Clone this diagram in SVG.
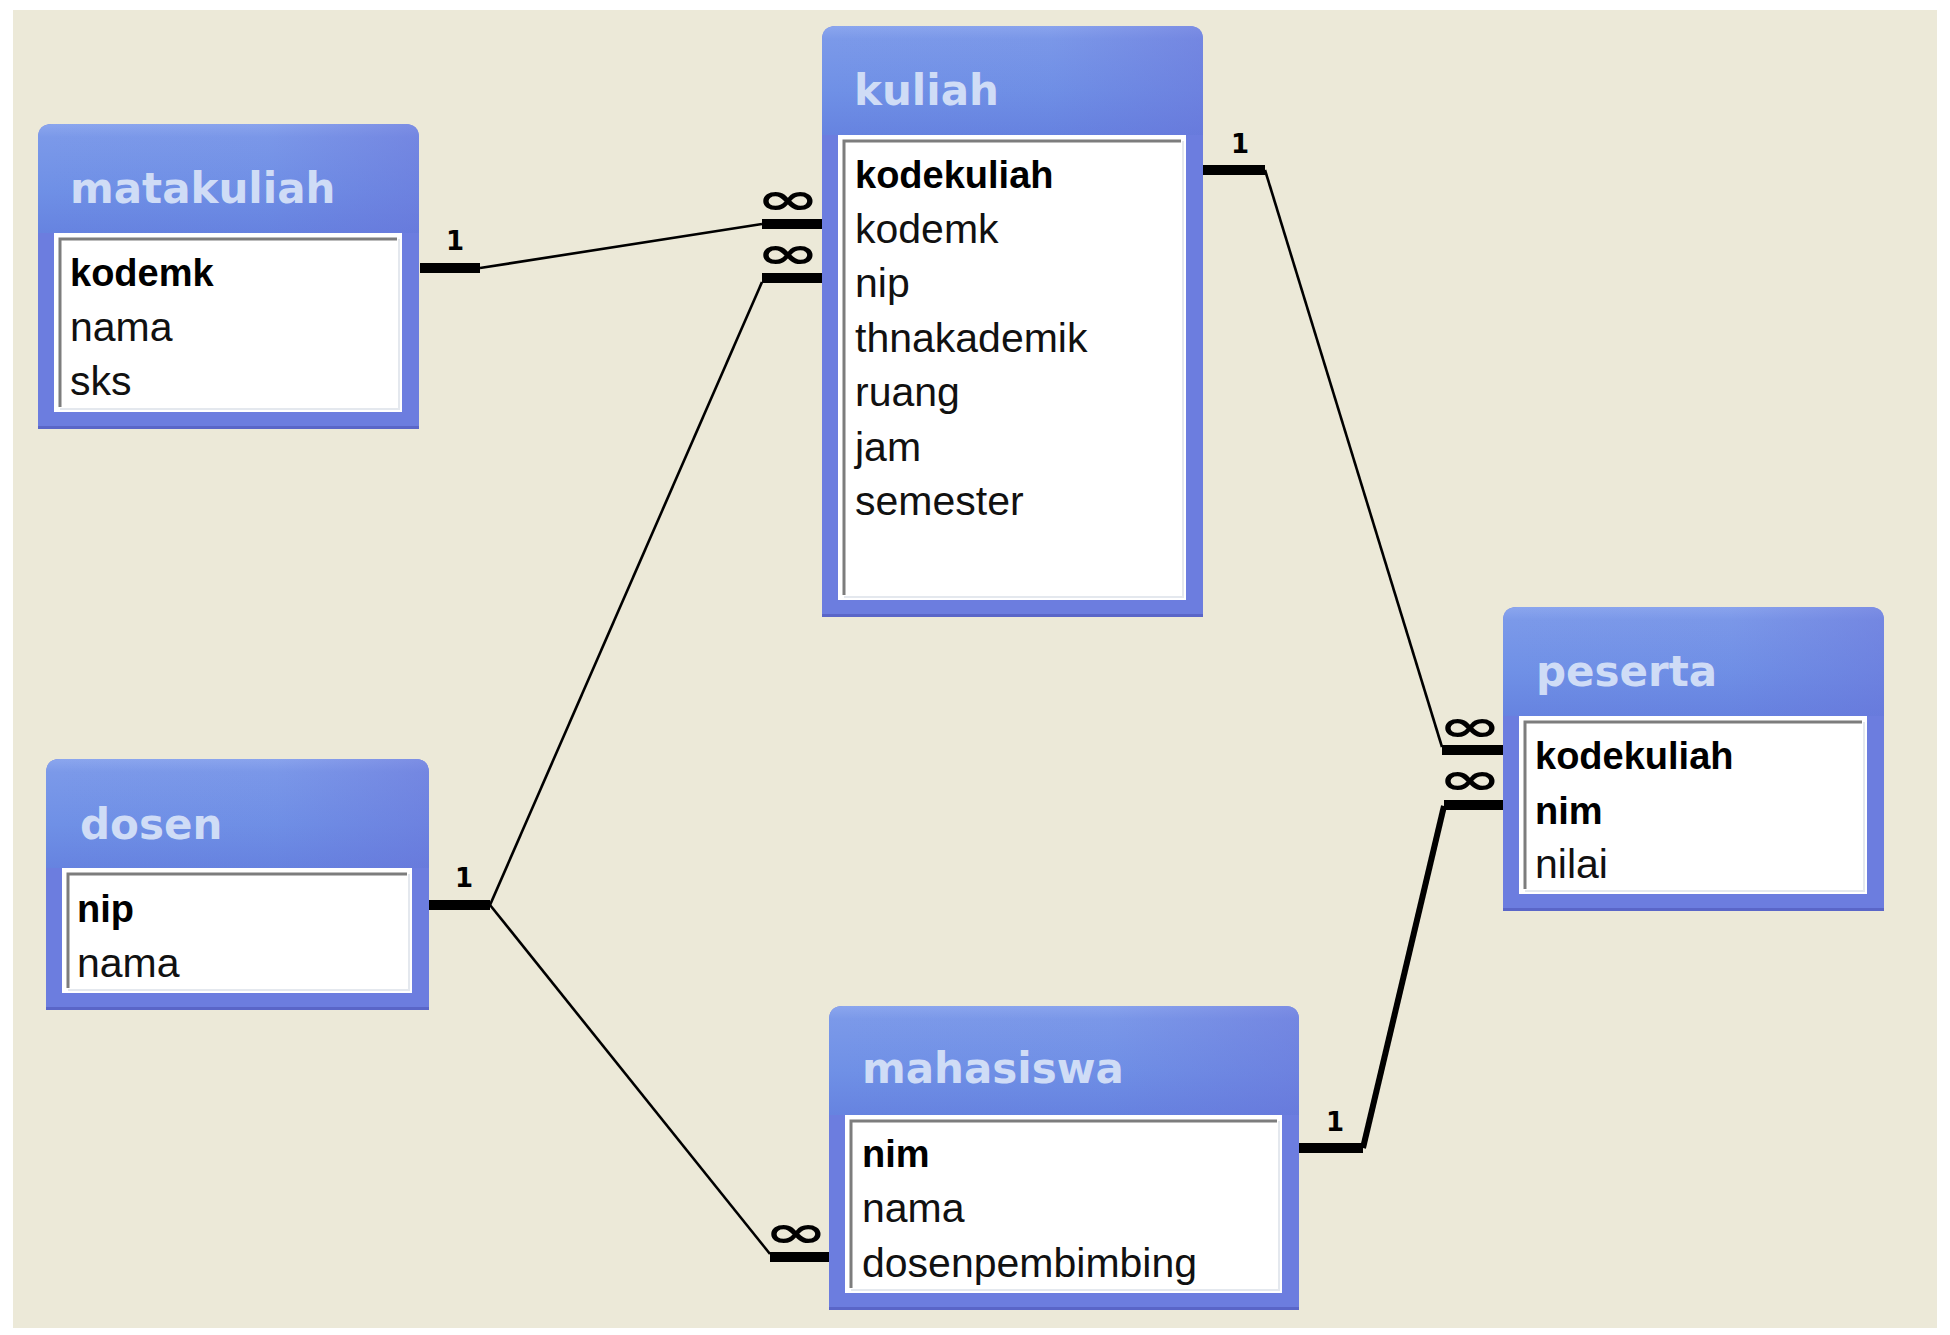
<svg xmlns="http://www.w3.org/2000/svg" width="1950" height="1335" viewBox="0 0 1950 1335">
<defs>
<linearGradient id="hdr" x1="0" y1="0" x2="0" y2="1">
<stop offset="0" stop-color="#8ba6ee"/>
<stop offset="0.12" stop-color="#7b99e9"/>
<stop offset="0.6" stop-color="#6f90e6"/>
<stop offset="1" stop-color="#6683e0"/>
</linearGradient>
<linearGradient id="tint" x1="0" y1="0" x2="1" y2="0">
<stop offset="0" stop-color="#6a70d8" stop-opacity="0"/>
<stop offset="0.6" stop-color="#6a70d8" stop-opacity="0.05"/>
<stop offset="1" stop-color="#6a70d8" stop-opacity="0.45"/>
</linearGradient>
</defs>
<style>
.frame{fill:#6c7ddf}
.hdr{fill:url(#hdr)}
.tint{fill:url(#tint)}
.edge{fill:#5a66c8}
.well{fill:#ffffff}
.sunk{fill:none;stroke:#7d7d7d;stroke-width:3}
.lite{fill:none;stroke:#e4e8ee;stroke-width:2}
.title{font-family:"DejaVu Sans",sans-serif;font-weight:bold;font-size:42px;fill:#cfdcf6}
.f{font-family:"Liberation Sans",Arial,sans-serif;font-size:41px;fill:#111}
.k{font-family:"Liberation Sans",Arial,sans-serif;font-size:38px;font-weight:bold;fill:#000}
.thick{stroke:#000;stroke-width:10;fill:none}
.thin{stroke:#000;stroke-width:2.6;fill:none}
.mid{stroke:#000;stroke-width:6;fill:none}
.one{font-family:"DejaVu Sans",sans-serif;font-weight:bold;font-size:26px;fill:#000;text-anchor:middle}
.inf{font-family:"DejaVu Sans",sans-serif;font-weight:bold;font-size:58px;fill:#000;text-anchor:middle}
</style>
<rect x="0" y="0" width="1950" height="1335" fill="#ffffff"/>
<rect x="13" y="10" width="1924" height="1318" fill="#ece9d8"/>

<g id="matakuliah">
<path class="frame" d="M38,138 Q38,124 52,124 H405 Q419,124 419,138 V429 H38 Z"/>
<path class="hdr" d="M38,138 Q38,124 52,124 H405 Q419,124 419,138 V233 H38 Z"/>
<path class="tint" d="M38,138 Q38,124 52,124 H405 Q419,124 419,138 V233 H38 Z"/>
<rect class="edge" x="38" y="426" width="381" height="3"/>
<rect class="well" x="54" y="233" width="348" height="179"/>
<polyline class="sunk" points="60,407 60,239 397,239"/>
<polyline class="lite" points="60,409 399,409 399,239"/>
<text class="title" x="70" y="203">matakuliah</text>
<text class="k" x="70" y="286">kodemk</text>
<text class="f" x="70" y="340.5">nama</text>
<text class="f" x="70" y="395">sks</text>
</g>

<g id="kuliah">
<path class="frame" d="M822,40 Q822,26 836,26 H1189 Q1203,26 1203,40 V617 H822 Z"/>
<path class="hdr" d="M822,40 Q822,26 836,26 H1189 Q1203,26 1203,40 V135 H822 Z"/>
<path class="tint" d="M822,40 Q822,26 836,26 H1189 Q1203,26 1203,40 V135 H822 Z"/>
<rect class="edge" x="822" y="614" width="381" height="3"/>
<rect class="well" x="838" y="135" width="348" height="465"/>
<polyline class="sunk" points="844,595 844,141 1181,141"/>
<polyline class="lite" points="844,597 1183,597 1183,141"/>
<text class="title" x="854" y="105">kuliah</text>
<text class="k" x="855" y="188">kodekuliah</text>
<text class="f" x="855" y="242.5">kodemk</text>
<text class="f" x="855" y="297">nip</text>
<text class="f" x="855" y="351.5">thnakademik</text>
<text class="f" x="855" y="406">ruang</text>
<text class="f" x="855" y="460.5">jam</text>
<text class="f" x="855" y="515">semester</text>
</g>

<g id="peserta">
<path class="frame" d="M1503,621 Q1503,607 1517,607 H1870 Q1884,607 1884,621 V911 H1503 Z"/>
<path class="hdr" d="M1503,621 Q1503,607 1517,607 H1870 Q1884,607 1884,621 V716 H1503 Z"/>
<path class="tint" d="M1503,621 Q1503,607 1517,607 H1870 Q1884,607 1884,621 V716 H1503 Z"/>
<rect class="edge" x="1503" y="908" width="381" height="3"/>
<rect class="well" x="1519" y="716" width="348" height="178"/>
<polyline class="sunk" points="1525,889 1525,722 1862,722"/>
<polyline class="lite" points="1525,891 1864,891 1864,722"/>
<text class="title" x="1536" y="686">peserta</text>
<text class="k" x="1535" y="769">kodekuliah</text>
<text class="k" x="1535" y="823.5">nim</text>
<text class="f" x="1535" y="878">nilai</text>
</g>

<g id="dosen">
<path class="frame" d="M46,773 Q46,759 60,759 H415 Q429,759 429,773 V1010 H46 Z"/>
<path class="hdr" d="M46,773 Q46,759 60,759 H415 Q429,759 429,773 V868 H46 Z"/>
<path class="tint" d="M46,773 Q46,759 60,759 H415 Q429,759 429,773 V868 H46 Z"/>
<rect class="edge" x="46" y="1007" width="383" height="3"/>
<rect class="well" x="62" y="868" width="350" height="125"/>
<polyline class="sunk" points="68,988 68,874 407,874"/>
<polyline class="lite" points="68,990 409,990 409,874"/>
<text class="title" x="80" y="839">dosen</text>
<text class="k" x="77" y="922">nip</text>
<text class="f" x="77" y="976.5">nama</text>
</g>

<g id="mahasiswa">
<path class="frame" d="M829,1020 Q829,1006 843,1006 H1285 Q1299,1006 1299,1020 V1310 H829 Z"/>
<path class="hdr" d="M829,1020 Q829,1006 843,1006 H1285 Q1299,1006 1299,1020 V1115 H829 Z"/>
<path class="tint" d="M829,1020 Q829,1006 843,1006 H1285 Q1299,1006 1299,1020 V1115 H829 Z"/>
<rect class="edge" x="829" y="1307" width="470" height="3"/>
<rect class="well" x="845" y="1115" width="437" height="178"/>
<polyline class="sunk" points="851,1288 851,1121 1277,1121"/>
<polyline class="lite" points="851,1290 1279,1290 1279,1121"/>
<text class="title" x="862" y="1083">mahasiswa</text>
<text class="k" x="862" y="1167">nim</text>
<text class="f" x="862" y="1222">nama</text>
<text class="f" x="862" y="1277">dosenpembimbing</text>
</g>

<g id="connectors">
<line class="thick" x1="420" y1="268" x2="480" y2="268"/>
<line class="thin" x1="480" y1="268" x2="762" y2="224"/>
<line class="thick" x1="762" y1="224" x2="822" y2="224"/>

<line class="thick" x1="429" y1="905" x2="490" y2="905"/>
<line class="thin" x1="490" y1="905" x2="762" y2="282"/>
<line class="thick" x1="762" y1="278" x2="822" y2="278"/>
<line class="thin" x1="490" y1="905" x2="770" y2="1254"/>
<line class="thick" x1="770" y1="1257" x2="829" y2="1257"/>

<line class="thick" x1="1203" y1="170" x2="1265" y2="170"/>
<line class="thin" x1="1265" y1="170" x2="1442" y2="747"/>
<line class="thick" x1="1442" y1="750" x2="1503" y2="750"/>

<line class="thick" x1="1299" y1="1148" x2="1363" y2="1148"/>
<line class="mid" x1="1363" y1="1148" x2="1444" y2="806"/>
<line class="thick" x1="1444" y1="805" x2="1503" y2="805"/>

<text class="one" x="455" y="250">1</text>
<text class="one" x="464" y="887">1</text>
<text class="one" x="1240" y="153">1</text>
<text class="one" x="1335" y="1131">1</text>

<text class="inf" transform="translate(788,199) scale(1.31,0.75)" x="0" y="20">∞</text>
<text class="inf" transform="translate(788,253) scale(1.31,0.75)" x="0" y="20">∞</text>
<text class="inf" transform="translate(1470,726) scale(1.31,0.75)" x="0" y="20">∞</text>
<text class="inf" transform="translate(1470,779) scale(1.31,0.75)" x="0" y="20">∞</text>
<text class="inf" transform="translate(796,1232) scale(1.31,0.75)" x="0" y="20">∞</text>
</g>
</svg>
